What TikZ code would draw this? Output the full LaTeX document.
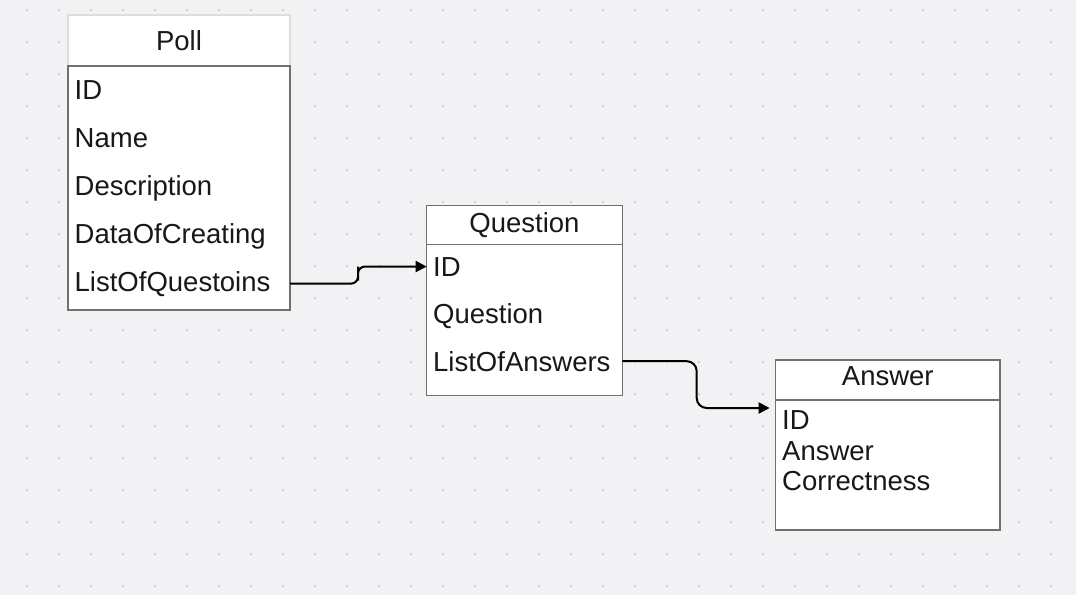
\documentclass[tikz,border=0pt]{standalone}
\usepackage{fontspec}
\setmainfont{Liberation Sans}
\usetikzlibrary{arrows.meta}
\definecolor{bg}{RGB}{242,242,245}
\definecolor{dotc}{RGB}{205,205,209}
\definecolor{edgec}{RGB}{112,112,112}
\definecolor{lightedge}{RGB}{220,220,220}
\definecolor{txtc}{RGB}{24,24,24}
\begin{document}
\begin{tikzpicture}[x=1pt,y=-1pt,
  box/.style={draw=edgec, line width=1.5pt, fill=white, inner sep=0pt, outer sep=0pt, anchor=north west},
  lhdr/.style={box, draw=lightedge},
  txt/.style={inner sep=0pt, anchor=base west, text=txtc, font=\fontsize{27.5}{30}\selectfont},
  htxt/.style={inner sep=0pt, anchor=base, text=txtc, font=\fontsize{27.5}{30}\selectfont},
  conn/.style={line width=2pt, -{Triangle[length=11pt,width=11pt]}}
]
\fill[bg] (0,0) rectangle (1076,595);
\useasboundingbox (0,0) rectangle (1076,595);
\foreach \i in {0,...,32}{
  \foreach \j in {0,...,18}{
    \fill[dotc] ({25.7+32*\i},{9+32*\j}) rectangle ++(2,2);
  }
}
% Poll
\node[lhdr, minimum width=222pt, minimum height=51pt] (pollh) at (68,15) {};
\node[box, minimum width=222pt, minimum height=244pt] (pollb) at (68,66) {};
\node[htxt] (pollt) at (179,50) {Poll};
\node[txt] (p1) at (74.5,99) {ID};
\node[txt] (p2) at (74.5,147) {Name};
\node[txt] (p3) at (74.5,195) {Description};
\node[txt] (p4) at (74.5,243) {DataOfCreating};
\node[txt] (p5) at (74.5,291) {ListOfQuestoins};
% Question
\node[box, minimum width=195.6pt, minimum height=38.6pt] (qh) at (426.7,205.7) {};
\node[box, minimum width=195.6pt, minimum height=151.4pt] (qb) at (426.7,244.3) {};
\node[htxt] (qt) at (524.5,232.7) {Question};
\node[txt] (q1) at (433,276) {ID};
\node[txt] (q2) at (433,323.5) {Question};
\node[txt] (q3) at (433,371) {ListOfAnswers};
% Answer
\node[box, minimum width=224.3pt, minimum height=40pt] (ah) at (775.7,360) {};
\node[box, minimum width=224.3pt, minimum height=130pt] (ab) at (775.7,400) {};
\node[htxt] (at) at (887.8,385.7) {Answer};
\node[txt] (a1) at (782,429.5) {ID};
\node[txt] (a2) at (782,460) {Answer};
\node[txt] (a3) at (782,490.7) {Correctness};
% connectors
\coordinate (c1) at (358,273.5);
\coordinate (c2) at (696.7,385);
\draw[conn, rounded corners=7pt] (pollb.east |- p5) -| (c1) |- (qb.west |- q1);
\draw[conn, rounded corners=10pt, shorten >=6pt] (qb.east |- q3) -| (c2) |- ([yshift=-8pt]ab.north west);
\end{tikzpicture}
\end{document}
